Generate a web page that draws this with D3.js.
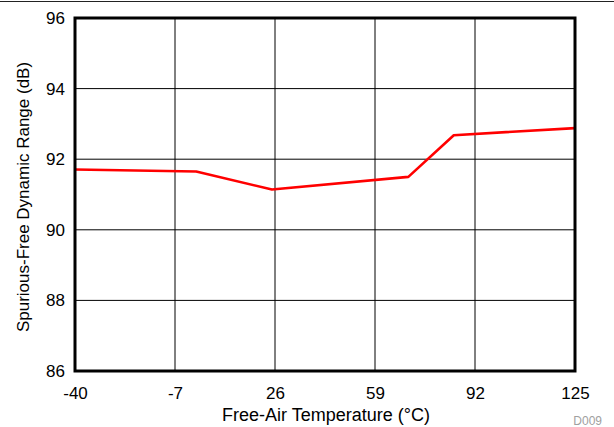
<!DOCTYPE html>
<html>
<head>
<meta charset="utf-8">
<script src="https://cdn.jsdelivr.net/npm/d3@7"></script>
<style>
  html, body { margin: 0; padding: 0; background: #fff; }
  svg { display: block; font-family: "Liberation Sans", Arial, sans-serif; }
</style>
</head>
<body>
<svg id="chart" width="614" height="427"></svg>
<script>
// SFDR versus free-air temperature
const temperatures = [-40, 0, 25, 70, 85, 125];
const sfdrValues = [91.71, 91.65, 91.14, 91.50, 92.68, 92.88];
const xTicks = [-40, -7, 26, 59, 92, 125];
const yTicks = [86, 88, 90, 92, 94, 96];

const svg = d3.select("#chart");
const plot = { left: 75, right: 575, top: 18, bottom: 371 };
const font = "Liberation Sans, Arial, sans-serif";

const x = d3.scaleLinear().domain([-40, 125]).range([plot.left, plot.right]);
const y = d3.scaleLinear().domain([86, 96]).range([plot.bottom, plot.top]);

// rule across the top of the page
svg.append("line")
  .attr("x1", 0).attr("x2", 614).attr("y1", 1.5).attr("y2", 1.5)
  .attr("stroke", "#222").attr("stroke-width", 1.2);

// grid
svg.append("g")
  .selectAll("line")
  .data(xTicks.slice(1, -1))
  .join("line")
  .attr("x1", d => x(d)).attr("x2", d => x(d))
  .attr("y1", plot.top).attr("y2", plot.bottom)
  .attr("stroke", "#000").attr("stroke-width", 1);

svg.append("g")
  .selectAll("line")
  .data(yTicks.slice(1, -1))
  .join("line")
  .attr("x1", plot.left).attr("x2", plot.right)
  .attr("y1", d => y(d)).attr("y2", d => y(d))
  .attr("stroke", "#000").attr("stroke-width", 1);

// data line
const line = d3.line().x((d, i) => x(temperatures[i])).y(d => y(d));
svg.append("path")
  .datum(sfdrValues)
  .attr("d", line)
  .attr("fill", "none")
  .attr("stroke", "#ff0000")
  .attr("stroke-width", 2.6)
  .attr("stroke-linejoin", "round");

// frame
svg.append("rect")
  .attr("x", plot.left).attr("y", plot.top)
  .attr("width", plot.right - plot.left).attr("height", plot.bottom - plot.top)
  .attr("fill", "none").attr("stroke", "#000").attr("stroke-width", 3);

// tick labels (plain hyphen for negatives)
const xAxis = d3.axisBottom(x).tickValues(xTicks).tickSize(0).tickPadding(16).tickFormat(d => String(d));
const gx = svg.append("g").attr("transform", `translate(0,${plot.bottom})`).call(xAxis);
gx.select(".domain").remove();
gx.selectAll("text").attr("font-size", 17).attr("fill", "#000").attr("font-family", font);

const yAxis = d3.axisLeft(y).tickValues(yTicks).tickSize(0).tickPadding(10).tickFormat(d => String(d));
const gy = svg.append("g").attr("transform", `translate(${plot.left},0)`).call(yAxis);
gy.select(".domain").remove();
gy.selectAll("text").attr("font-size", 17).attr("fill", "#000").attr("font-family", font);

// axis titles
svg.append("text")
  .attr("x", 326).attr("y", 421)
  .attr("text-anchor", "middle").attr("font-size", 18).attr("fill", "#000")
  .text("Free-Air Temperature (°C)");

svg.append("text")
  .attr("transform", `translate(28.5,197) rotate(-90)`)
  .attr("text-anchor", "middle").attr("font-size", 17).attr("fill", "#000")
  .text("Spurious-Free Dynamic Range (dB)");

svg.append("text")
  .attr("x", 602).attr("y", 425)
  .attr("text-anchor", "end").attr("font-size", 12).attr("fill", "#a0a0a0")
  .text("D009");
</script>
</body>
</html>
